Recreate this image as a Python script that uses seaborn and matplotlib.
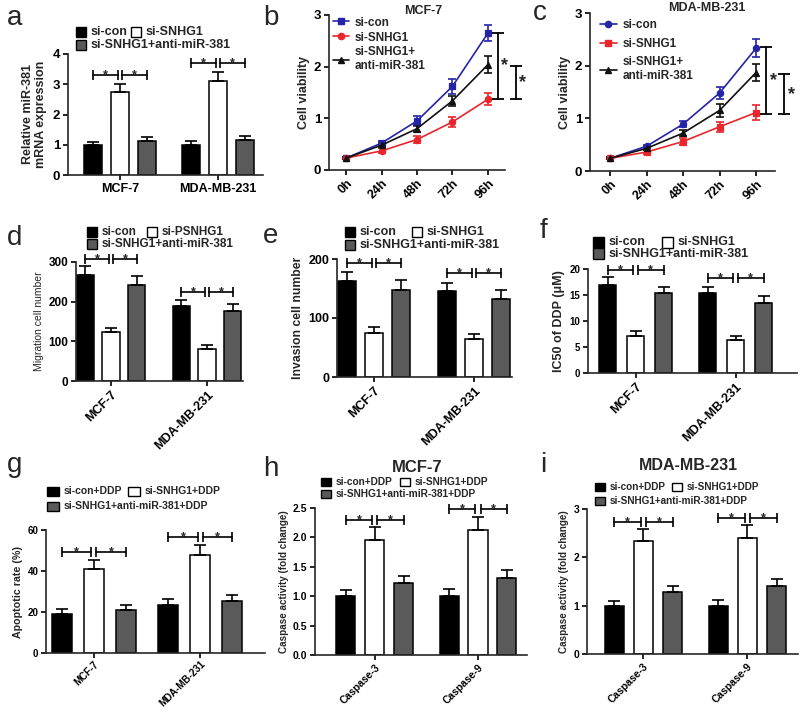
import numpy as np
import pandas as pd
import matplotlib
matplotlib.use("Agg")
import matplotlib.pyplot as plt
import matplotlib.transforms as mtransforms
from matplotlib.patches import Rectangle
from matplotlib.lines import Line2D
from matplotlib.ticker import FormatStrFormatter
import seaborn as sns

# ---------------- data ----------------
cell_lines = ["MCF-7", "MDA-MB-231"]
caspases = ["Caspase-3", "Caspase-9"]
time_points = ["0h", "24h", "48h", "72h", "96h"]

conds_a = ["si-con", "si-SNHG1", "si-SNHG1+anti-miR-381"]
conds_d = ["si-con", "si-PSNHG1", "si-SNHG1+anti-miR-381"]
conds_ddp = ["si-con+DDP", "si-SNHG1+DDP", "si-SNHG1+anti-miR-381+DDP"]
line_names = ["si-con", "si-SNHG1", "si-SNHG1+\nanti-miR-381"]

# a: relative miR-381 expression
mir381_mean = [[1.00, 2.75, 1.12], [1.00, 3.12, 1.17]]
mir381_err = [[0.10, 0.27, 0.12], [0.12, 0.30, 0.13]]
mir381_sig = [3.31, 3.69]

# b: MCF-7 cell viability
mcf_sicon = [0.23, 0.52, 0.95, 1.62, 2.65]
mcf_sicon_err = [0.02, 0.05, 0.10, 0.14, 0.16]
mcf_sisnhg1 = [0.23, 0.37, 0.59, 0.93, 1.37]
mcf_sisnhg1_err = [0.02, 0.05, 0.06, 0.10, 0.12]
mcf_anti = [0.23, 0.48, 0.80, 1.34, 2.04]
mcf_anti_err = [0.02, 0.04, 0.07, 0.10, 0.16]
mcf_brackets = [(1.37, 2.66), (1.37, 2.02)]

# c: MDA-MB-231 cell viability
mda_sicon = [0.24, 0.47, 0.89, 1.48, 2.33]
mda_sicon_err = [0.02, 0.03, 0.06, 0.12, 0.17]
mda_sisnhg1 = [0.24, 0.36, 0.56, 0.84, 1.11]
mda_sisnhg1_err = [0.02, 0.03, 0.06, 0.09, 0.15]
mda_anti = [0.24, 0.43, 0.72, 1.15, 1.87]
mda_anti_err = [0.02, 0.03, 0.05, 0.12, 0.16]
mda_brackets = [(1.08, 2.36), (1.08, 1.84)]

# d: migration
migration_mean = [[268, 123, 242], [188, 81, 177]]
migration_err = [[22, 11, 22], [17, 10, 18]]
migration_sig = [307, 224]

# e: invasion
invasion_mean = [[162, 75, 148], [146, 64, 133]]
invasion_err = [[16, 10, 16], [14, 9, 15]]
invasion_sig = [193, 176]

# f: IC50 of DDP
ic50_mean = [[17.0, 7.2, 15.3], [15.3, 6.3, 13.4]]
ic50_err = [[1.5, 0.9, 1.3], [1.3, 0.8, 1.4]]
ic50_sig = [19.8, 18.3]

# g: apoptosis
apop_mean = [[19.0, 41.0, 21.0], [23.5, 48.0, 25.5]]
apop_err = [[2.3, 4.5, 2.3], [2.7, 4.5, 2.6]]
apop_sig = [49.4, 56.7]

# h: caspase MCF-7
casp_mcf_mean = [[1.00, 1.95, 1.22], [1.00, 2.13, 1.31]]
casp_mcf_err = [[0.10, 0.22, 0.13], [0.12, 0.22, 0.13]]
casp_mcf_sig = [2.30, 2.48]

# i: caspase MDA-MB-231
casp_mda_mean = [[1.00, 2.33, 1.28], [1.00, 2.40, 1.40]]
casp_mda_err = [[0.10, 0.25, 0.13], [0.12, 0.26, 0.15]]
casp_mda_sig = [2.73, 2.82]

# ---------------- style ----------------
sns.set_style("ticks")
plt.rcParams["font.family"] = ["Liberation Sans", "DejaVu Sans"]
plt.rcParams["axes.linewidth"] = 1.2

BAR_COLORS = ["#000000", "#ffffff", "#5a5a5a"]
LINE_COLORS = ["#2424a8", "#e8262c", "#111111"]
MARKERS_B = ["s", "o", "^"]
MARKERS_C = ["o", "s", "^"]

W, H = 800, 712
fig = plt.figure(figsize=(W / 100, H / 100), dpi=100)


def px_rect(x0, y0, x1, y1):
    return [x0 / W, 1 - y1 / H, (x1 - x0) / W, (y1 - y0) / H]


def style_axes(ax, ytick_fs, xtick_fs, xpad=2):
    sns.despine(ax=ax)
    ax.tick_params(axis="both", width=1.2, length=3.5, pad=2, colors="black")
    ax.tick_params(axis="y", labelsize=ytick_fs)
    ax.tick_params(axis="x", labelsize=xtick_fs, pad=xpad)
    for lab in ax.get_xticklabels() + ax.get_yticklabels():
        lab.set_fontweight("bold")


def bar_panel(box, groups, conds, means, errs, sig, ylim, yticks, ylabel,
              ylab_fs, ytick_fs, xtick_fs, rot, width, gap, xlim,
              star_fs=9, yfmt=None, labelpad=3, ylab_w="bold", xpad=2):
    ax = fig.add_axes(px_rect(*box))
    rows = []
    for g, vals in zip(groups, means):
        for c, v in zip(conds, vals):
            rows.append({"group": g, "cond": c, "value": v})
    df = pd.DataFrame(rows)
    sns.barplot(data=df, x="group", y="value", hue="cond", order=groups,
                hue_order=conds, palette=BAR_COLORS, saturation=1,
                edgecolor="black", linewidth=1.1, width=width, gap=gap,
                errorbar=None, legend=False, ax=ax)
    patches = sorted(ax.patches, key=lambda p: p.get_x())
    xs = [p.get_x() + p.get_width() / 2 for p in patches]
    hs = [p.get_height() for p in patches]
    flat_err = [e for ge in errs for e in ge]
    ax.errorbar(xs, hs, yerr=[np.zeros(len(xs)), flat_err], fmt="none",
                ecolor="black", elinewidth=1.2, capsize=4, capthick=1.2,
                zorder=3)
    star_tr = mtransforms.offset_copy(ax.transData, fig=fig, x=0, y=-3,
                                      units="dots")
    dgap = 0.012 * (xlim[1] - xlim[0])
    for gi, y in enumerate(sig):
        c0, c1, c2 = xs[3 * gi:3 * gi + 3]
        for s, e in [(c0, c1 - dgap), (c1 + dgap, c2)]:
            ax.plot([s, e], [y, y], color="black", lw=1.2, marker="|",
                    ms=7, mew=1.2, clip_on=False, zorder=4)
            ax.text((s + e) / 2, y, "*", ha="center", va="baseline",
                    fontsize=star_fs, fontweight="bold", transform=star_tr,
                    clip_on=False)
    ax.set_xlim(*xlim)
    ax.set_ylim(*ylim)
    ax.set_yticks(yticks)
    if yfmt:
        ax.yaxis.set_major_formatter(FormatStrFormatter(yfmt))
    ax.set_xlabel("")
    ax.set_ylabel(ylabel, fontsize=ylab_fs, fontweight=ylab_w,
                  labelpad=labelpad)
    if rot:
        ax.set_xticks(range(len(groups)))
        ax.set_xticklabels(groups, rotation=45, ha="right",
                           rotation_mode="anchor")
    style_axes(ax, ytick_fs, xtick_fs, xpad)
    return ax


def bar_legend(x, y1, y2, x2, labels, fs, sw=10, sh=10, tgap=5):
    items = [(x, y1, BAR_COLORS[0], labels[0]),
             (x2, y1, BAR_COLORS[1], labels[1]),
             (x, y2, BAR_COLORS[2], labels[2])]
    for xx, yy, col, lab in items:
        fig.add_artist(Rectangle((xx / W, 1 - (yy + sh / 2) / H), sw / W,
                                 sh / H, transform=fig.transFigure,
                                 facecolor=col, edgecolor="black",
                                 linewidth=1.0))
        fig.text((xx + sw + tgap) / W, 1 - yy / H, lab, ha="left",
                 va="center", fontsize=fs, fontweight="bold")


def line_panel(box, series, series_err, brackets, xlim, legend_xy,
               legend_spacing, markers):
    ax = fig.add_axes(px_rect(*box))
    rows = []
    for name, vals in zip(line_names, series):
        for t, v in zip(time_points, vals):
            rows.append({"time": t, "value": v, "group": name})
    df = pd.DataFrame(rows)
    sns.pointplot(data=df, x="time", y="value", hue="group",
                  order=time_points, hue_order=line_names,
                  palette=LINE_COLORS, markers=markers, linestyles="-",
                  errorbar=None, legend=False, markersize=4.5, linewidth=1.2,
                  ax=ax)
    pos = np.arange(len(time_points))
    for vals, errs, col in zip(series, series_err, LINE_COLORS):
        ax.errorbar(pos, vals, yerr=errs, fmt="none", ecolor=col,
                    elinewidth=1.2, capsize=3, capthick=1.2, zorder=1)
    last = len(time_points) - 1
    for k, (lo, hi) in enumerate(brackets):
        xb = last + 0.28 + 0.5 * k
        ax.plot([xb, xb], [lo, hi], color="black", lw=1.3, marker="_",
                ms=9, mew=1.3, clip_on=False)
        ax.text(xb + 0.2, (lo + hi) / 2, "*", ha="center", va="center",
                fontsize=13, fontweight="bold", clip_on=False)
    ax.set_xlim(*xlim)
    ax.set_ylim(0, 3)
    ax.set_yticks([0, 1, 2, 3])
    ax.set_xlabel("")
    ax.set_ylabel("Cell viability", fontsize=9, fontweight="bold",
                  labelpad=3)
    ax.set_xticks(pos)
    ax.set_xticklabels(time_points, rotation=45, ha="right",
                       rotation_mode="anchor")
    style_axes(ax, 9.5, 9)
    handles = [Line2D([], [], color=c, marker=m, ms=4.5, lw=1.2)
               for c, m in zip(LINE_COLORS, markers)]
    ax.legend(handles, line_names, loc="upper left",
              bbox_to_anchor=legend_xy, frameon=False,
              prop={"size": 8.5, "weight": "bold"},
              handlelength=1.4, handletextpad=0.5,
              labelspacing=legend_spacing, borderaxespad=0, borderpad=0)
    return ax


# ---------------- panels ----------------
# a
bar_panel((68, 54, 263, 175), cell_lines, conds_a, mir381_mean, mir381_err,
          mir381_sig, (0, 4), [0, 1, 2, 3, 4],
          "Relative miR-381\nmRNA expression", ylab_fs=9, ytick_fs=9.5,
          xtick_fs=9, rot=False, width=0.83, gap=0.33, xlim=(-0.53, 1.46),
          labelpad=4)
bar_legend(76, 32, 45, 131, conds_a, fs=9)

# b
line_panel((329, 15, 505, 170), [mcf_sicon, mcf_sisnhg1, mcf_anti],
           [mcf_sicon_err, mcf_sisnhg1_err, mcf_anti_err], mcf_brackets,
           (-0.48, 4.48), (0.02, 0.99), 0.25, MARKERS_B)
fig.text(423 / W, 1 - 11 / H, "MCF-7", ha="center", va="center",
         fontsize=9, fontweight="bold")

# c
line_panel((590, 13, 775, 171), [mda_sicon, mda_sisnhg1, mda_anti],
           [mda_sicon_err, mda_sisnhg1_err, mda_anti_err], mda_brackets,
           (-0.55, 4.52), (0.054, 0.96), 0.55, MARKERS_C)
fig.text(707 / W, 1 - 8 / H, "MDA-MB-231", ha="center", va="center",
         fontsize=9, fontweight="bold")

# d
bar_panel((76, 262, 243, 381), cell_lines, conds_d, migration_mean,
          migration_err, migration_sig, (0, 300), [0, 100, 200, 300],
          "Migration cell number", ylab_fs=7.5, ytick_fs=8.5, xtick_fs=9,
          rot=True, width=0.81, gap=0.34, xlim=(-0.365, 1.375),
          ylab_w="normal")
bar_legend(87, 232, 244, 147, conds_d, fs=8.5)

# e
bar_panel((337, 259, 512, 377), cell_lines, conds_a, invasion_mean,
          invasion_err, invasion_sig, (0, 200), [0, 100, 200],
          "Invasion cell number", ylab_fs=8.8, ytick_fs=9, xtick_fs=9,
          rot=True, width=0.81, gap=0.33, xlim=(-0.37, 1.38))
bar_legend(345, 232, 245, 412, conds_a, fs=9)

# f
bar_panel((588, 269, 797, 373), cell_lines, conds_a, ic50_mean, ic50_err,
          ic50_sig, (0, 20), [0, 5, 10, 15, 20], "IC50 of DDP (\u03bcM)",
          ylab_fs=9, ytick_fs=7, xtick_fs=9, rot=True, width=0.84, gap=0.36,
          xlim=(-0.475, 1.615))
bar_legend(593, 242, 254, 662, conds_a, fs=9, sw=11, sh=11)

# g
bar_panel((46, 530, 265, 653), cell_lines, conds_ddp, apop_mean, apop_err,
          apop_sig, (0, 60), [0, 20, 40, 60], "Apoptotic rate (%)",
          ylab_fs=7.7, ytick_fs=7, xtick_fs=7, rot=True, width=0.90,
          gap=0.37, xlim=(-0.45, 1.61), xpad=1)
bar_legend(47, 491, 506, 128, conds_ddp, fs=7.5, sw=12, sh=9)

# h
bar_panel((315, 508, 527, 655), caspases, conds_ddp, casp_mcf_mean,
          casp_mcf_err, casp_mcf_sig, (0, 2.5),
          [0, 0.5, 1.0, 1.5, 2.0, 2.5], "Caspase activity (fold change)",
          ylab_fs=7.1, ytick_fs=7.5, xtick_fs=7.5, rot=True, width=0.84,
          gap=0.34, xlim=(-0.58, 1.475), yfmt="%.1f")
bar_legend(321, 482, 494, 400, conds_ddp, fs=7.3, sw=10, sh=8)
fig.text(417 / W, 1 - 467 / H, "MCF-7", ha="center", va="center",
         fontsize=12, fontweight="bold")

# i
bar_panel((587, 509, 798, 654), caspases, conds_ddp, casp_mda_mean,
          casp_mda_err, casp_mda_sig, (0, 3), [0, 1, 2, 3],
          "Caspase activity (fold change)", ylab_fs=7.1, ytick_fs=7.5,
          xtick_fs=7.5, rot=True, width=0.84, gap=0.34,
          xlim=(-0.543, 1.486))
bar_legend(595, 487, 501, 672, conds_ddp, fs=7.2, sw=10, sh=8)
fig.text(688 / W, 1 - 466 / H, "MDA-MB-231", ha="center", va="center",
         fontsize=11.5, fontweight="bold")

# panel letters
for letter, x, y in [("a", 7, 25), ("b", 263, 25), ("c", 533, 20),
                     ("d", 7, 245), ("e", 263, 243), ("f", 540, 238),
                     ("g", 7, 472), ("h", 263, 476), ("i", 540, 472)]:
    fig.text(x / W, 1 - y / H, letter, fontsize=20, va="baseline",
             ha="left")

fig.savefig("out.png", dpi=100)
